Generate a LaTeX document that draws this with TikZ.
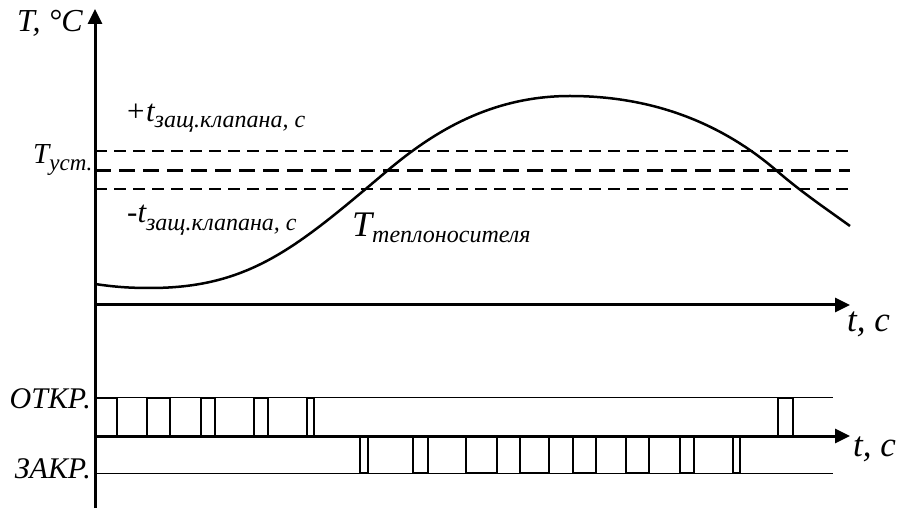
\documentclass[tikz,border=0pt]{standalone}
\usepackage{fontspec}
\setmainfont{Liberation Serif}
\usetikzlibrary{arrows.meta}

\newcommand\idx[3]{\raisebox{-#1pt}{\fontsize{#2}{#2}\selectfont #3}}

\begin{document}
\begin{tikzpicture}[x=1pt, y=-1pt,
	lbl/.style={inner sep=0pt, font=\itshape},
	axis/.style={line width=3pt, -{Triangle[length=15pt,width=14pt]}},
	level/.style={line width=1pt},
	band/.style={line width=1.5pt, dash pattern=on 12pt off 7pt},
	setpoint/.style={line width=3pt, dash pattern=on 16pt off 8pt},
	signal/.style={line width=2.5pt, line join=miter},
	curve/.style={line width=2.5pt}]
  	\useasboundingbox (0,0) rectangle (905,510);

  	\coordinate (O) at (95,508);
  	\coordinate (Ttop) at (95,9);
  	\coordinate (t1) at (95,305);
  	\coordinate (t1end) at (850,305);
  	\coordinate (t2) at (95,436);
  	\coordinate (t2end) at (850,436);

  	\draw[band] (95,151) -- (850,151);
  	\draw[setpoint] (95,171) -- (850,171);
  	\draw[band] (95,189) -- (850,189);

  	\draw[curve] (95,284) .. controls (115,287) and (130,288) .. (150,288)
    		.. controls (250,288) and (297,247) .. (387,171)
    		.. controls (432,133) and (490,96) .. (570,96)
    		.. controls (660,96) and (727,128) .. (777,171)
    		.. controls (802,192.5) and (825,208) .. (850,226);

  	\draw[level] (95,398) -- (833,398);
  	\draw[level] (95,473) -- (833,473);

  	\draw[signal] (95,398) -- (117,398) -- (117,436);
  	\foreach \a/\b in {147/170, 201/215, 254/268, 307/314, 778/793}
    		\draw[signal] (\a,436) -- (\a,398) -- (\b,398) -- (\b,436);
  	\foreach \a/\b in {360/368, 413/428, 466/497, 520/549, 573/596, 626/649, 680/694, 733/740}
    		\draw[signal] (\a,436) -- (\a,473) -- (\b,473) -- (\b,436);

  	\draw[axis] (O) -- (Ttop);
  	\draw[axis] (t1) -- (t1end);
  	\draw[axis] (t2) -- (t2end);

  	\node[lbl, anchor=base west] (tunit) at (17,32) {\fontsize{32}{32}\selectfont T, °C};
  	\node[lbl, anchor=base west] (tset) at (33,164) {\fontsize{29}{29}\selectfont T\idx{7}{23}{уст.}};
  	\node[lbl, anchor=base west] (tplus) at (125,122) {\fontsize{31}{31}\selectfont +t\idx{6}{24}{защ.клапана, с}};
  	\node[lbl, anchor=base west] (tminus) at (127,223) {\fontsize{31}{31}\selectfont -t\idx{8}{24}{защ.клапана, с}};
  	\node[lbl, anchor=base west] (theat) at (352,237) {\fontsize{36}{36}\selectfont T\idx{6}{24}{теплоносителя}};
  	\node[lbl, anchor=base west] (time1) at (847,332) {\fontsize{35}{35}\selectfont t, с};
  	\node[lbl, anchor=base west] (time2) at (853,456) {\fontsize{35}{35}\selectfont t, с};
  	\node[lbl, anchor=east] (open) at (91,399) {\fontsize{30}{30}\selectfont ОТКР.};
  	\node[lbl, anchor=east] (close) at (91,469) {\fontsize{30}{30}\selectfont ЗАКР.};
\end{tikzpicture}
\end{document}
